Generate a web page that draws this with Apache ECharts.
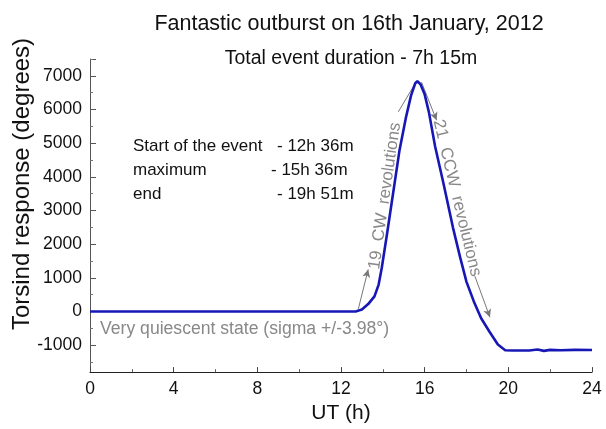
<!DOCTYPE html>
<html>
<head>
<meta charset="utf-8">
<script src="https://cdn.jsdelivr.net/npm/echarts@6/dist/echarts.min.js"></script>
<style>
  html, body { margin: 0; padding: 0; background: #fff; }
  #chart { width: 606px; height: 429px; }
</style>
</head>
<body>
<div id="chart"></div>
<script>
// UT hour and torsind response (degrees)
const hours = [0, 4, 8, 12, 12.7, 13.0, 13.3, 13.6, 13.8, 13.95, 14.2, 14.5, 14.8, 15.1, 15.35, 15.55, 15.65,
  15.8, 16.0, 16.2, 16.5, 16.9, 17.35, 17.7, 18.0, 18.35, 18.7, 19.1, 19.5, 19.85, 20.2, 21.0, 21.4, 21.7,
  22.0, 22.5, 23.2, 24];
const torsion = [0, 0, 0, 0, 0, 60, 220, 450, 800, 1300, 2300, 3550, 4800, 5750, 6420, 6780, 6840,
  6750, 6450, 5930, 4900, 3800, 2500, 1600, 880, 300, -200, -600, -980, -1150, -1160, -1160, -1130, -1170,
  -1140, -1150, -1140, -1145];

const yTicks = [-1000, 0, 1000, 2000, 3000, 4000, 5000, 6000, 7000];
const yMinorTicks = [-1500, -500, 500, 1500, 2500, 3500, 4500, 5500, 6500, 7500];

// annotation arrows: [from, to] in (hour, degrees)
const arrowSegments = [
  [[12.83, 80], [13.30, 1250], 'arrow'],
  [[14.74, 5930], [15.60, 6830], 'none'],
  [[15.85, 6810], [16.57, 5680], 'arrow'],
  [[18.40, 1050], [19.12, -170], 'arrow']
];

const eventTimes = [
  ['Start of the event', '- 12h 36m'],
  ['maximum', '- 15h 36m'],
  ['end', '- 19h 51m']
];

const FONT = '"Liberation Sans", Arial, sans-serif';
const chart = echarts.init(document.getElementById('chart'));

const graphicText = [];
const rowY = [146, 170, 194];
const valueX = [277, 271, 277];
eventTimes.forEach((row, i) => {
  graphicText.push({ type: 'text', x: 133, y: rowY[i], style: { text: row[0], fill: '#111', font: '17px ' + FONT, verticalAlign: 'middle' } });
  graphicText.push({ type: 'text', x: valueX[i], y: rowY[i], style: { text: row[1], fill: '#111', font: '17px ' + FONT, verticalAlign: 'middle' } });
});
graphicText.push(
  { type: 'text', x: 100, y: 329, style: { text: 'Very quiescent state (sigma +/-3.98\u00b0)', fill: '#888', font: '17.6px ' + FONT, verticalAlign: 'middle' } },
  { type: 'text', x: 385, y: 196, rotation: 1.428, style: { text: '19  CW  revolutions', fill: '#888', font: '17px ' + FONT, align: 'center', verticalAlign: 'middle' } },
  { type: 'text', x: 457, y: 198, rotation: -1.332, style: { text: '21  CCW  revolutions', fill: '#888', font: '17px ' + FONT, align: 'center', verticalAlign: 'middle' } },
  { type: 'text', x: 22, y: 184, rotation: Math.PI / 2, style: { text: 'Torsind response (degrees)', fill: '#111', font: '24px ' + FONT, align: 'center', verticalAlign: 'middle' } }
);

chart.setOption({
  backgroundColor: '#fff',
  animation: false,
  title: [
    { text: 'Fantastic outburst on 16th January, 2012', left: 344, top: 8, textAlign: 'center',
      textStyle: { fontSize: 21.5, fontWeight: 'normal', color: '#111', fontFamily: FONT } },
    { text: 'Total event duration - 7h 15m', left: 346, top: 44, textAlign: 'center',
      textStyle: { fontSize: 19.5, fontWeight: 'normal', color: '#111', fontFamily: FONT } }
  ],
  grid: { left: 90, right: 14, top: 59, bottom: 52 },
  xAxis: {
    type: 'value', min: 0, max: 24, interval: 4,
    name: 'UT (h)', nameLocation: 'middle', nameGap: 30,
    nameTextStyle: { fontSize: 21, color: '#111', fontFamily: FONT },
    axisLine: { onZero: false, lineStyle: { color: '#222', width: 1 } },
    axisTick: { inside: true, length: 5, lineStyle: { color: '#444' } },
    minorTick: { show: true, splitNumber: 2, length: 3, lineStyle: { color: '#666' } },
    axisLabel: { fontSize: 17.5, color: '#111', fontFamily: FONT, margin: 8 },
    splitLine: { show: false }
  },
  yAxis: [
    {
      type: 'value', min: -1800, max: 7500,
      axisLine: { show: true, lineStyle: { color: '#555', width: 1 } },
      axisTick: { show: true, inside: true, length: 6, customValues: yTicks.concat([7500]), lineStyle: { color: '#555' } },
      axisLabel: { customValues: yTicks, formatter: v => String(v), fontSize: 17.5, color: '#111', fontFamily: FONT, margin: 8 },
      splitLine: { show: false }
    },
    {
      type: 'value', min: -1800, max: 7500, position: 'left',
      axisLine: { show: false },
      axisTick: { show: true, inside: true, length: 3, customValues: yMinorTicks, lineStyle: { color: '#777' } },
      axisLabel: { show: false },
      splitLine: { show: false }
    }
  ],
  series: [{
    type: 'line',
    data: hours.map((h, i) => [h, torsion[i]]),
    showSymbol: false,
    lineStyle: { color: '#1717b5', width: 2.6 },
    z: 5,
    markLine: {
      silent: true,
      symbolSize: [6, 8],
      lineStyle: { color: '#777', width: 1, type: 'solid' },
      label: { show: false },
      data: arrowSegments.map(s => [
        { coord: s[0], symbol: 'none' },
        { coord: s[1], symbol: s[2] }
      ])
    }
  }],
  graphic: graphicText
});
window.addEventListener('resize', () => chart.resize());
</script>
</body>
</html>
